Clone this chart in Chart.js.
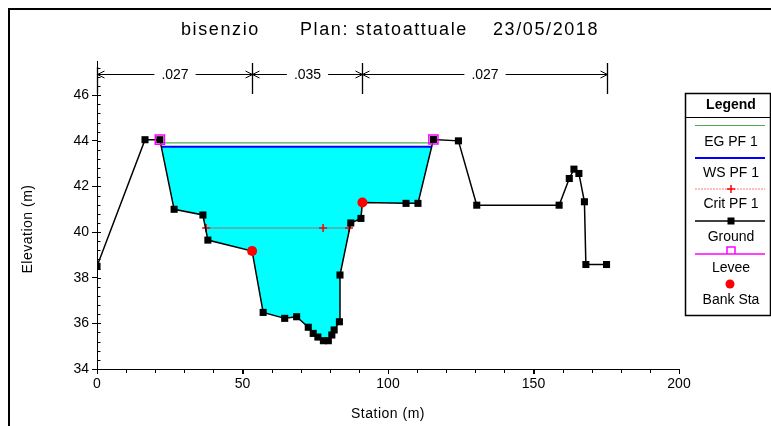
<!DOCTYPE html>
<html>
<head>
<meta charset="utf-8">
<script src="https://cdn.jsdelivr.net/npm/chart.js@4/dist/chart.umd.min.js"></script>
<style>
  html, body { margin: 0; padding: 0; background: #fff; }
  #wrap { position: relative; width: 771px; height: 426px; }
</style>
</head>
<body>
<div id="wrap"><canvas id="c" width="771" height="426"></canvas></div>
<script>
// Cross section "bisenzio", plan statoattuale
const titleParts = ['bisenzio', 'Plan: statoattuale', '23/05/2018'];

const groundStation = [0, 16.5, 21.6, 26.5, 36.4, 38.1, 53.3, 57.1, 64.5, 68.6, 72.6, 74.3, 75.9, 77.8, 79.5, 80.7, 81.5, 83.3, 83.5, 87.2, 90.7, 91.2, 106.2, 110.3, 115.6, 124.2, 130.5, 158.8, 162.3, 163.9, 165.6, 167.5, 168.0, 175.1];
const groundElev    = [38.5, 44.05, 44.05, 41.0, 40.75, 39.65, 39.17, 36.48, 36.22, 36.29, 35.83, 35.56, 35.4, 35.24, 35.24, 35.49, 35.71, 36.07, 38.12, 40.4, 40.6, 41.3, 41.26, 41.26, 44.06, 44.0, 41.18, 41.18, 42.35, 42.76, 42.57, 41.33, 38.58, 38.58];

const leveeStation = [21.6, 115.6];
const leveeElev    = [44.05, 44.06];

const bankStation = [53.3, 91.2];
const bankElev    = [39.17, 41.3];

const critStation = [37.5, 77.7, 86.6];
const critElev    = [40.18, 40.18, 40.18];

const wsElev = 43.74;   // WS PF 1
const egElev = 43.91;   // EG PF 1

const manningBreaks = [0, 53.3, 91.2, 175.1];
const manningN      = ['.027', '.035', '.027'];

const xTicks = [0, 50, 100, 150, 200];
const yTicks = [34, 36, 38, 40, 42, 44, 46];

const legendItems = ['EG PF 1', 'WS PF 1', 'Crit PF 1', 'Ground', 'Levee', 'Bank Sta'];

const FONT = "'Liberation Sans', Arial, sans-serif";

function pts(xs, ys) { return xs.map((x, i) => ({ x: x, y: ys[i] })); }

// Wetted part of the section between the levees for a given water level:
// returns the ground profile clipped at the level, with the two edge crossings.
function wetted(level) {
  const start = groundStation.indexOf(leveeStation[0]);
  const out = [];
  let i = start;
  // left crossing
  for (; i < groundStation.length - 1; i++) {
    if (groundElev[i] >= level && groundElev[i + 1] < level) {
      const t = (groundElev[i] - level) / (groundElev[i] - groundElev[i + 1]);
      out.push({ x: groundStation[i] + t * (groundStation[i + 1] - groundStation[i]), y: level });
      i++;
      break;
    }
  }
  for (; i < groundStation.length - 1; i++) {
    out.push({ x: groundStation[i], y: groundElev[i] });
    if (groundElev[i] < level && groundElev[i + 1] >= level) {
      const t = (level - groundElev[i]) / (groundElev[i + 1] - groundElev[i]);
      out.push({ x: groundStation[i] + t * (groundStation[i + 1] - groundStation[i]), y: level });
      break;
    }
  }
  return out;
}

const wetPolygon = wetted(wsElev);
const wsLine = [wetPolygon[0], wetPolygon[wetPolygon.length - 1]];
const egWet = wetted(egElev);
const egLine = [egWet[0], egWet[egWet.length - 1]];

function drawArrowHead(ctx, x, y, dir) {
  ctx.beginPath();
  ctx.moveTo(x - dir * 7, y - 3.5);
  ctx.lineTo(x, y);
  ctx.lineTo(x - dir * 7, y + 3.5);
  ctx.stroke();
}

const decor = {
  id: 'decor',
  afterDraw(chart) {
    const ctx = chart.ctx;
    const xs = chart.scales.x, ys = chart.scales.y;
    const area = chart.chartArea;
    ctx.save();

    // outer frame (top and left)
    ctx.strokeStyle = '#000';
    ctx.lineWidth = 2;
    ctx.beginPath();
    ctx.moveTo(771, 9);
    ctx.lineTo(9, 9);
    ctx.lineTo(9, 426);
    ctx.stroke();

    // title
    ctx.fillStyle = '#000';
    ctx.font = '18px ' + FONT;
    ctx.textBaseline = 'alphabetic';
    ctx.textAlign = 'left';
    ctx.letterSpacing = '1.6px';
    const titleX = [181, 300, 493];
    titleParts.forEach((t, i) => ctx.fillText(t, titleX[i], 35));

    // minor ticks
    ctx.lineWidth = 1;
    ctx.letterSpacing = '0px';
    ctx.beginPath();
    for (let v = 34; v <= 47.3; v += 0.4) {
      const y = Math.round(ys.getPixelForValue(v)) + 0.5;
      ctx.moveTo(area.left, y);
      ctx.lineTo(area.left + 3.5, y);
    }
    for (let v = 0; v <= 200; v += 10) {
      const x = Math.round(xs.getPixelForValue(v)) + 0.5;
      ctx.moveTo(x, area.bottom);
      ctx.lineTo(x, area.bottom + (v % 50 === 0 ? 5 : 4));
    }
    yTicks.forEach(v => {
      const y = Math.round(ys.getPixelForValue(v)) + 0.5;
      ctx.moveTo(area.left, y);
      ctx.lineTo(area.left + 4, y);
    });
    ctx.stroke();

    // Manning's n bands with dimension arrows
    const yA = 74.5;
    ctx.lineWidth = 1.3;
    ctx.beginPath();
    manningBreaks.forEach(s => {
      const x = Math.round(xs.getPixelForValue(s)) + 0.5;
      ctx.moveTo(x, s === 0 ? 67 : 63);
      ctx.lineTo(x, 94);
    });
    ctx.stroke();
    ctx.lineWidth = 1;
    ctx.font = '14px ' + FONT;
    ctx.textAlign = 'center';
    ctx.textBaseline = 'middle';
    for (let i = 0; i < manningN.length; i++) {
      const x0 = Math.round(xs.getPixelForValue(manningBreaks[i])) + 0.5;
      const x1 = Math.round(xs.getPixelForValue(manningBreaks[i + 1])) + 0.5;
      const xm = (x0 + x1) / 2;
      const w = ctx.measureText(manningN[i]).width / 2 + 7;
      ctx.beginPath();
      ctx.moveTo(x0, yA); ctx.lineTo(xm - w, yA);
      ctx.moveTo(xm + w, yA); ctx.lineTo(x1, yA);
      ctx.stroke();
      drawArrowHead(ctx, x0, yA, -1);
      drawArrowHead(ctx, x1, yA, 1);
      ctx.fillText(manningN[i], xm, yA + 1);
    }

    // axis titles
    ctx.font = '14px ' + FONT;
    ctx.letterSpacing = '0.5px';
    ctx.fillText('Station (m)', (area.left + area.right) / 2, 414);
    ctx.save();
    ctx.translate(28, 229);
    ctx.rotate(-Math.PI / 2);
    ctx.fillText('Elevation (m)', 0, 0);
    ctx.restore();
    ctx.letterSpacing = '0px';

    // legend panel
    const L = 685, T = 93, R = 770, B = 315, cx = 731;
    ctx.lineWidth = 1.5;
    ctx.strokeStyle = '#000';
    ctx.strokeRect(L + 0.5, T + 0.5, R - L, B - T);
    ctx.lineWidth = 1;
    ctx.beginPath();
    ctx.moveTo(L, 117.5); ctx.lineTo(R, 117.5);
    ctx.stroke();
    ctx.font = 'bold 14px ' + FONT;
    ctx.fillText('Legend', cx, 105);
    ctx.font = '14px ' + FONT;
    const lineY = [125, 158, 189, 221, 254, 284];
    const textY = [142, 173, 204, 237, 268, 300];
    legendItems.forEach((t, i) => ctx.fillText(t, cx, textY[i]));
    const x0 = 695, x1 = 765;
    // EG
    ctx.strokeStyle = '#4cae4c'; ctx.lineWidth = 1;
    ctx.beginPath(); ctx.moveTo(x0, lineY[0] + 0.5); ctx.lineTo(x1, lineY[0] + 0.5); ctx.stroke();
    // WS
    ctx.strokeStyle = '#0000ff'; ctx.lineWidth = 2;
    ctx.beginPath(); ctx.moveTo(x0, lineY[1]); ctx.lineTo(x1, lineY[1]); ctx.stroke();
    // Crit
    ctx.strokeStyle = 'rgba(255,0,0,0.35)'; ctx.lineWidth = 1.5; ctx.setLineDash([2, 1]);
    ctx.beginPath(); ctx.moveTo(x0, lineY[2]); ctx.lineTo(x1, lineY[2]); ctx.stroke();
    ctx.setLineDash([]);
    ctx.strokeStyle = '#ff0000'; ctx.lineWidth = 1.5;
    ctx.beginPath();
    ctx.moveTo(cx - 4, lineY[2]); ctx.lineTo(cx + 4, lineY[2]);
    ctx.moveTo(cx, lineY[2] - 4); ctx.lineTo(cx, lineY[2] + 4);
    ctx.stroke();
    // Ground
    ctx.strokeStyle = '#000'; ctx.lineWidth = 1.5;
    ctx.beginPath(); ctx.moveTo(x0, lineY[3]); ctx.lineTo(x1, lineY[3]); ctx.stroke();
    ctx.fillStyle = '#000';
    ctx.fillRect(cx - 3.5, lineY[3] - 3.5, 7, 7);
    // Levee
    ctx.strokeStyle = '#ff00ff'; ctx.lineWidth = 1.5;
    ctx.beginPath(); ctx.moveTo(x0, lineY[4]); ctx.lineTo(x1, lineY[4]); ctx.stroke();
    ctx.beginPath();
    ctx.moveTo(cx - 4, lineY[4]); ctx.lineTo(cx - 4, lineY[4] - 7);
    ctx.lineTo(cx + 4, lineY[4] - 7); ctx.lineTo(cx + 4, lineY[4]);
    ctx.stroke();
    // Bank
    ctx.fillStyle = '#ff0000';
    ctx.beginPath(); ctx.arc(cx - 1, lineY[5], 4.5, 0, Math.PI * 2); ctx.fill();

    ctx.restore();
  }
};

Chart.defaults.font.family = FONT;
Chart.defaults.color = '#000';

new Chart(document.getElementById('c').getContext('2d'), {
  type: 'line',
  data: {
    datasets: [
      { label: 'Bank Sta', data: pts(bankStation, bankElev), showLine: false,
        pointStyle: 'circle', pointRadius: 5, pointBackgroundColor: '#ff0000', pointBorderColor: '#ff0000', pointBorderWidth: 0 },
      { label: 'Levee', data: pts(leveeStation, leveeElev), showLine: false,
        pointStyle: 'rect', pointRadius: 6.5, pointBackgroundColor: 'rgba(0,0,0,0)', pointBorderColor: '#ff00ff', pointBorderWidth: 1.5 },
      { label: 'Ground', data: pts(groundStation, groundElev), borderColor: '#000', borderWidth: 1.5,
        pointStyle: 'rect', pointRadius: 5, pointBackgroundColor: '#000', pointBorderColor: '#000', pointBorderWidth: 0 },
      { label: 'Crit PF 1', data: pts(critStation, critElev), borderColor: 'rgba(255,0,0,0.35)', borderWidth: 1.5,
        pointStyle: 'cross', pointRadius: 4, pointBorderColor: '#ff0000', pointBorderWidth: 1.5 },
      { label: 'WS PF 1', data: wsLine, borderColor: '#0000ff', borderWidth: 2, pointRadius: 0 },
      { label: 'EG PF 1', data: egLine, borderColor: '#4cae4c', borderWidth: 1.2, pointRadius: 0 },
      { label: 'water', data: wetPolygon, borderWidth: 0, pointRadius: 0,
        backgroundColor: '#00ffff', fill: { value: wsElev } }
    ]
  },
  options: {
    responsive: false,
    animation: false,
    devicePixelRatio: 1,
    layout: { padding: { left: 0, top: 61, right: 92, bottom: 0 } },
    elements: { line: { tension: 0 } },
    plugins: { legend: { display: false }, tooltip: { enabled: false }, title: { display: false } },
    scales: {
      x: {
        type: 'linear', min: 0, max: 200,
        afterFit(s) { s.height = 57; },
        afterBuildTicks(s) { s.ticks = xTicks.map(v => ({ value: v })); },
        grid: { drawOnChartArea: false, drawTicks: true, tickLength: 5, color: '#000' },
        border: { color: '#000', width: 1 },
        ticks: { color: '#000', font: { size: 14 }, padding: 2, maxRotation: 0, autoSkip: false }
      },
      y: {
        type: 'linear', min: 34, max: 47.5,
        afterFit(s) { s.width = 97; },
        afterBuildTicks(s) { s.ticks = yTicks.map(v => ({ value: v })); },
        grid: { drawOnChartArea: false, drawTicks: true, tickLength: 5, color: '#000' },
        border: { color: '#000', width: 1 },
        ticks: { color: '#000', font: { size: 14 }, padding: 3, autoSkip: false }
      }
    }
  },
  plugins: [decor]
});
</script>
</body>
</html>
